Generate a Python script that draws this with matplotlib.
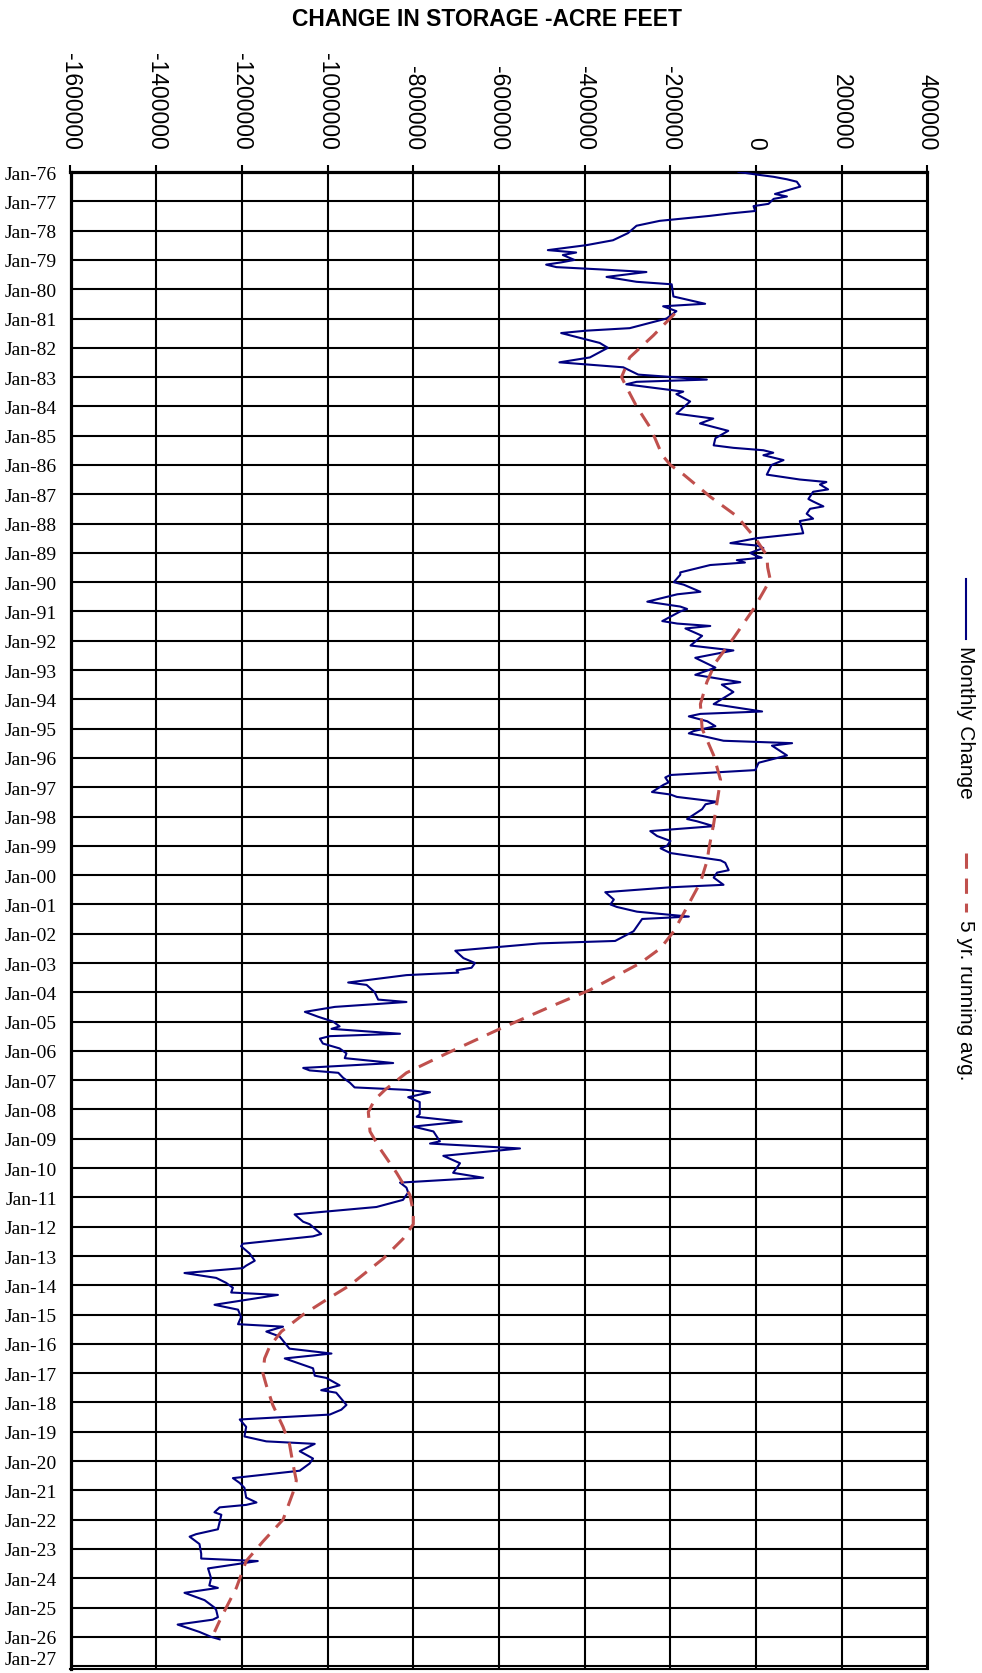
import numpy as np
import pandas as pd
import matplotlib
matplotlib.use('Agg')
import matplotlib.pyplot as plt
from matplotlib.lines import Line2D

# monthly change in storage (acre-feet)
mc_dates = ['1976-01', '1976-02', '1976-03', '1976-04', '1976-05', '1976-07', '1976-10', '1976-11', '1976-12',
            '1977-02', '1977-03', '1977-05', '1977-06', '1977-07', '1977-09', '1977-11',
            '1978-02', '1978-05', '1978-07', '1978-09', '1978-10', '1978-11',
            '1979-01', '1979-02', '1979-03', '1979-04', '1979-05', '1979-06', '1979-08', '1979-10', '1979-11',
            '1980-04', '1980-07', '1980-08', '1980-10',
            '1981-01', '1981-05', '1981-06', '1981-07', '1981-11',
            '1982-01', '1982-05', '1982-07', '1982-09', '1982-12',
            '1983-02', '1983-03', '1983-04', '1983-07', '1983-08', '1983-11',
            '1984-04', '1984-06', '1984-08', '1984-11',
            '1985-02', '1985-05', '1985-06', '1985-07', '1985-08', '1985-09', '1985-11',
            '1986-01', '1986-05', '1986-07', '1986-08', '1986-09', '1986-11', '1986-12',
            '1987-03', '1987-04', '1987-06', '1987-07', '1987-09', '1987-11', '1987-12',
            '1988-05', '1988-07', '1988-09', '1988-10', '1988-11',
            '1989-01', '1989-02', '1989-03', '1989-04', '1989-05', '1989-06', '1989-09', '1989-10',
            '1990-01', '1990-02', '1990-05', '1990-06', '1990-09', '1990-11', '1990-12',
            '1991-01', '1991-05', '1991-06', '1991-07', '1991-08', '1991-11',
            '1992-03', '1992-05', '1992-08', '1992-12',
            '1993-03', '1993-06', '1993-07', '1993-10',
            '1994-03', '1994-06', '1994-07', '1994-08', '1994-10', '1994-12',
            '1995-02', '1995-03', '1995-04', '1995-06', '1995-07', '1995-08', '1995-12',
            '1996-03', '1996-06', '1996-08', '1996-09', '1996-11', '1996-12',
            '1997-03', '1997-04', '1997-05', '1997-07', '1997-08', '1997-10',
            '1998-02', '1998-03', '1998-05', '1998-07', '1998-09', '1998-11',
            '1999-01', '1999-02', '1999-04', '1999-06', '1999-07', '1999-08', '1999-11', '1999-12',
            '2000-02', '2000-05', '2000-06', '2000-08', '2000-11',
            '2001-01', '2001-02', '2001-04', '2001-06', '2001-07', '2001-09', '2001-10', '2001-12',
            '2002-04', '2002-05', '2002-08', '2002-11',
            '2003-01', '2003-03', '2003-04', '2003-05', '2003-06', '2003-09', '2003-10',
            '2004-01', '2004-04', '2004-05', '2004-07', '2004-09', '2004-11',
            '2005-01', '2005-03', '2005-04', '2005-06', '2005-07', '2005-08', '2005-10', '2005-12',
            '2006-02', '2006-04', '2006-06', '2006-08', '2006-09', '2006-10', '2006-12',
            '2007-02', '2007-04', '2007-05', '2007-06', '2007-08', '2007-10',
            '2008-03', '2008-04', '2008-06', '2008-08', '2008-10',
            '2009-02', '2009-03', '2009-05', '2009-08', '2009-11',
            '2010-03', '2010-05', '2010-07', '2010-09', '2010-11',
            '2011-02', '2011-05', '2011-08', '2011-11', '2011-12',
            '2012-04', '2012-05', '2012-08', '2012-09', '2012-12',
            '2013-03', '2013-05', '2013-06', '2013-08', '2013-10', '2013-12',
            '2014-02', '2014-04', '2014-05', '2014-09', '2014-11',
            '2015-02', '2015-05', '2015-06', '2015-08', '2015-10',
            '2016-03', '2016-05', '2016-07', '2016-11',
            '2017-02', '2017-03', '2017-06', '2017-08', '2017-09',
            '2018-02', '2018-04', '2018-06', '2018-08', '2018-11',
            '2019-03', '2019-05', '2019-06', '2019-09', '2019-12',
            '2020-02', '2020-05', '2020-08', '2020-10', '2020-12',
            '2021-04', '2021-06', '2021-07', '2021-08', '2021-10', '2021-11',
            '2022-02', '2022-05', '2022-07', '2022-08', '2022-11',
            '2023-03', '2023-05', '2023-06', '2023-09',
            '2024-01', '2024-04', '2024-05', '2024-07', '2024-10',
            '2025-01', '2025-02', '2025-05', '2025-06', '2025-08', '2025-11',
            '2026-01', '2026-02']
mc_values = [-41000, 0, 41000, 72000, 95000, 103000, 44000, 72000, 41000,
             29000, -6000, -2000, -61000, -108000, -225000, -279000,
             -299000, -334000, -396000, -486000, -420000, -451000,
             -424000, -455000, -490000, -466000, -357000, -256000, -349000, -279000, -197000,
             -193000, -119000, -217000, -186000,
             -209000, -295000, -396000, -455000, -365000,
             -346000, -388000, -459000, -310000, -275000,
             -115000, -279000, -303000, -170000, -186000, -154000,
             -186000, -100000, -131000, -65000,
             -95000, -99000, -53000, 17000, 40000, 17000, 64000,
             36000, 25000, 102000, 164000, 149000, 168000, 133000,
             122000, 133000, 157000, 126000, 118000, 133000, 102000,
             110000, 2000, -60000, 2000, 17000,
             -14000, -2000, 13000, -45000, -26000, -107000, -177000, -177000,
             -192000, -169000, -130000, -184000, -254000, -177000, -161000,
             -177000, -219000, -184000, -107000, -165000, -126000,
             -153000, -53000, -142000, -95000,
             -142000, -37000, -80000, -53000,
             -99000, 14000, -130000, -157000, -114000, -95000,
             -146000, -157000, -126000, -76000, 84000, 37000, 72000,
             6000, -2000, -200000, -212000, -204000, -216000,
             -243000, -200000, -185000, -91000, -118000, -126000,
             -161000, -138000, -99000, -247000, -231000, -200000,
             -208000, -223000, -200000, -122000, -83000, -72000, -64000, -91000,
             -99000, -76000, -200000, -352000, -332000,
             -340000, -325000, -278000, -157000, -266000, -274000, -278000, -286000,
             -329000, -504000, -702000, -683000,
             -656000, -664000, -699000, -695000, -816000, -952000, -909000,
             -890000, -882000, -816000, -983000, -1053000, -1022000,
             -987000, -972000, -991000, -831000, -995000, -1018000, -1011000, -972000,
             -956000, -960000, -847000, -1057000, -1042000, -975000, -964000,
             -948000, -937000, -816000, -761000, -812000, -785000,
             -785000, -792000, -687000, -800000, -753000,
             -738000, -761000, -551000, -730000, -691000,
             -707000, -637000, -831000, -816000, -812000,
             -824000, -886000, -1077000, -1057000, -1042000,
             -1015000, -1034000, -1198000, -1202000, -1182000,
             -1170000, -1190000, -1198000, -1334000, -1260000, -1237000,
             -1221000, -1225000, -1116000, -1264000, -1209000,
             -1202000, -1209000, -1104000, -1143000, -1112000,
             -1089000, -991000, -1100000, -1034000,
             -1030000, -1003000, -972000, -1015000, -980000,
             -956000, -968000, -995000, -1205000, -1190000,
             -1194000, -1143000, -1030000, -1065000, -1034000,
             -1042000, -1065000, -1221000, -1205000, -1194000,
             -1190000, -1166000, -1190000, -1252000, -1264000, -1248000,
             -1252000, -1256000, -1307000, -1322000, -1299000,
             -1295000, -1295000, -1163000, -1279000,
             -1272000, -1276000, -1256000, -1334000, -1287000,
             -1264000, -1260000, -1256000, -1268000, -1350000, -1299000,
             -1272000, -1252000]

# 5 yr. running average (acre-feet)
ra_dates = ['1980-11', '1981-08', '1982-05', '1983-01', '1983-05', '1984-01', '1984-10', '1985-02',
            '1985-09', '1986-01', '1986-05', '1987-02', '1987-10', '1988-07', '1989-02', '1989-07',
            '1989-12', '1990-05', '1990-12', '1991-12', '1992-10', '1993-06', '1994-03', '1995-01',
            '1995-12', '1996-10', '1997-07', '1998-04', '1999-02', '1999-07', '2000-04', '2001-02',
            '2001-12', '2002-07', '2003-01', '2003-12', '2004-07', '2005-04', '2006-02', '2006-10',
            '2007-05', '2007-09', '2008-02', '2008-10', '2009-05', '2010-03', '2010-12', '2011-07',
            '2011-12', '2012-06', '2013-02', '2014-01', '2014-07', '2015-01', '2015-08', '2016-02',
            '2016-07', '2017-01', '2017-06', '2018-02', '2018-11', '2019-06', '2020-02', '2020-09',
            '2021-02', '2022-01', '2022-10', '2023-06', '2024-05', '2025-05', '2025-11']
ra_values = [-190000, -240000, -295000, -314000, -303000, -279000, -246000, -236000,
             -219000, -200000, -169000, -107000, -45000, -2000, 25000, 27000,
             33000, 17000, -6000, -53000, -95000, -115000, -130000, -126000,
             -99000, -83000, -91000, -99000, -110000, -114000, -130000, -161000,
             -192000, -223000, -270000, -387000, -481000, -598000, -722000, -816000,
             -866000, -890000, -905000, -901000, -878000, -839000, -808000, -800000,
             -800000, -824000, -870000, -948000, -1003000, -1057000, -1108000, -1135000,
             -1147000, -1151000, -1143000, -1128000, -1104000, -1089000, -1081000, -1073000,
             -1081000, -1104000, -1151000, -1190000, -1213000, -1248000, -1264000]

x_ticks = list(range(-1600000, 400001, 200000))
tick_years = list(range(1976, 2028))

navy = '#000080'
red = '#C0504D'
W, H = 982, 1674

plt.rcParams['font.family'] = ['Liberation Sans', 'DejaVu Sans']

mc_t = pd.to_datetime(mc_dates)
ra_t = pd.to_datetime(ra_dates)

fig = plt.figure(figsize=(W / 100, H / 100), dpi=100)
ax = fig.add_axes([70.5 / W, 4 / H, 857 / W, 1497 / H])

ax.plot(mc_values, mc_t, color=navy, lw=1.5, zorder=3)
ax.plot(ra_values, ra_t, color=red, lw=2.2, dashes=(5, 3.2), zorder=4)

ax.set_xlim(-1600000, 400000)
ax.set_ylim(pd.Timestamp('2027-02-06'), pd.Timestamp('1976-01-01'))

ax.set_xticks(x_ticks)
ax.set_xticklabels([str(v) for v in x_ticks])
ax.xaxis.tick_top()
ax.tick_params(axis='x', length=5, width=1.5, pad=11.5, labelsize=16.5, labelrotation=-90)

yt = [pd.Timestamp(f'{y}-01-01') for y in tick_years]
ylabels = [f'Jan-{y % 100:02d}' for y in tick_years]
ax.set_yticks(yt)
# last label sits on the bottom edge, drawn separately so it is not clipped
ax.set_yticklabels(ylabels[:-1] + [''], fontfamily='Liberation Serif', fontsize=14)
ax.tick_params(axis='y', length=0, pad=9.7)
fig.text(57 / W, 1 - 1661 / H, ylabels[-1], ha='right', va='center',
         fontfamily='Liberation Serif', fontsize=14)

ax.grid(True, color='black', linewidth=1.5)
for s in ['top', 'left']:
    ax.spines[s].set_linewidth(2.3)
for s in ['bottom', 'right']:
    ax.spines[s].set_linewidth(1.5)

fig.text(487 / W, 1 - 20 / H, 'CHANGE IN STORAGE -ACRE FEET', ha='center', va='center',
         fontsize=16.5, fontweight='bold')

# legend, rotated like the axis labels
lx = 966 / W
fig.add_artist(Line2D([lx, lx], [1 - 580 / H, 1 - 640 / H], transform=fig.transFigure, color=navy, lw=1.5))
fig.text(lx, 1 - 646 / H, 'Monthly Change', rotation=-90, ha='center', va='top', fontsize=15)
fig.add_artist(Line2D([lx, lx], [1 - 854 / H, 1 - 913 / H], transform=fig.transFigure, color=red,
                      lw=2.2, dashes=(5, 3.2)))
fig.text(lx, 1 - 920 / H, '5 yr. running avg.', rotation=-90, ha='center', va='top', fontsize=15)

fig.savefig('out.png', dpi=100)
